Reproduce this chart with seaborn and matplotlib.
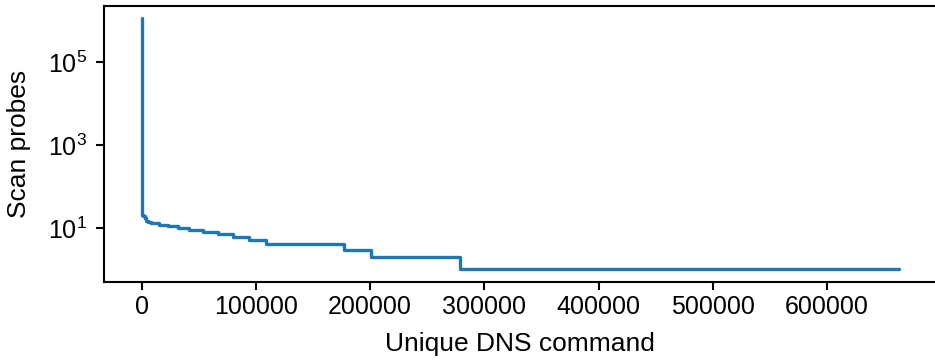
import matplotlib
matplotlib.use("Agg")
import matplotlib.pyplot as plt
import seaborn as sns
import pandas as pd
from matplotlib.ticker import NullLocator

# Rank (start of each step) and scan probe count for that step
rank = [0, 1, 3, 10, 30, 100, 300, 1000, 2500, 4000, 5500, 7900, 14900, 22700,
        31500, 41100, 53400, 66500, 79600, 93600, 108500, 177500, 201000,
        279000, 663000]
probes = [1150000, 200000, 30000, 3000, 300, 50, 21, 19, 17, 15, 14, 13, 12,
          11, 10, 9, 8, 7, 6, 5, 4, 3, 2, 1, 1]

xticks = [0, 100000, 200000, 300000, 400000, 500000, 600000]
yticks = [10, 1000, 100000]

df = pd.DataFrame({"rank": rank, "probes": probes})

sns.set_style("ticks")
plt.rcParams["font.family"] = ["Liberation Sans", "DejaVu Sans"]
plt.rcParams["mathtext.fontset"] = "custom"
plt.rcParams["mathtext.rm"] = "Liberation Sans"

fig, ax = plt.subplots(figsize=(9.35, 3.6), dpi=100)
fig.subplots_adjust(left=0.111, right=1.002, top=0.984, bottom=0.217)

sns.lineplot(data=df, x="rank", y="probes", ax=ax, drawstyle="steps-post",
             color="#1f77b4", linewidth=2.4, estimator=None)
ax.set_yscale("log")
ax.set_xticks(xticks)
ax.set_xticklabels([str(t) for t in xticks])
ax.set_yticks(yticks)
ax.yaxis.set_minor_locator(NullLocator())
ax.set_xlabel("Unique DNS command", fontsize=19, color="black", labelpad=9)
ax.set_ylabel("Scan probes", fontsize=19, color="black", labelpad=12)
ax.tick_params(labelsize=18, width=1.5, length=6, colors="black")
ax.tick_params(axis="y", pad=6)
for s in ax.spines.values():
    s.set_linewidth(1.5)
    s.set_color("black")

fig.savefig("out.png", dpi=100)
